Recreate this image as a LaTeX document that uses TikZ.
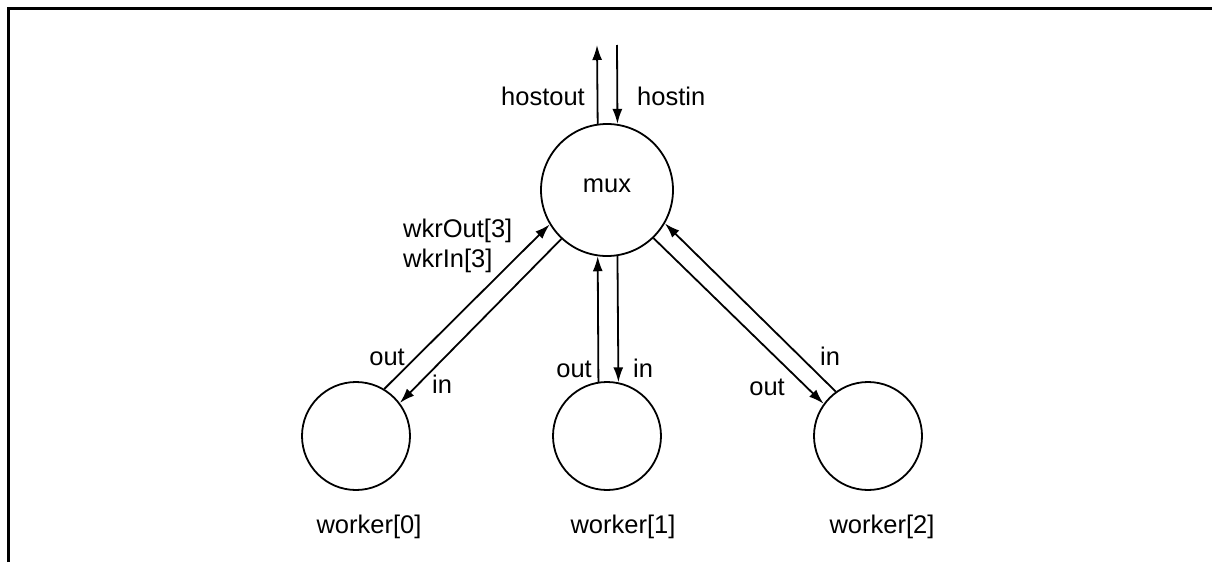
\documentclass[tikz,border=0pt]{standalone}
\usepackage{fontspec}
\setmainfont{Liberation Sans}
\usetikzlibrary{arrows.meta}
\begin{document}
\begin{tikzpicture}[x=1pt,y=-1pt,
  every node/.style={font=\fontsize{25.5}{30}\selectfont},
  proc/.style={draw,circle,line width=1.8pt,inner sep=0pt},
  conn/.style={line width=1.8pt,-{Latex[length=15pt,width=10pt]}},
  lbl/.style={inner sep=0pt,anchor=base west},
  lblr/.style={inner sep=0pt,anchor=base east},
  lblc/.style={inner sep=0pt,anchor=base}]
\useasboundingbox (0,0) rectangle (1212,562);
\draw[line width=3pt] (8,562) -- (8,8) -- (1212,8);
\node[proc,minimum size=132pt] (mux) at (607,190) {};
\node[lblc] (muxl) at (607,192) {mux};
\node[proc,minimum size=108pt] (w0) at (356,436) {};
\node[proc,minimum size=108pt] (w1) at (607,436) {};
\node[proc,minimum size=108pt] (w2) at (868,436) {};
\node[lblc] (w0l) at (369,533) {worker[0]};
\node[lblc] (w1l) at (623,533) {worker[1]};
\node[lblc] (w2l) at (882,533) {worker[2]};
\coordinate (hout) at (597,45);
\coordinate (hin) at (617,45);
\draw[conn] (mux.98.7) -- (hout);
\draw[conn] (hin) -- (mux.81.3);
\node[lblr] (houtl) at (585,105) {hostout};
\node[lbl] (hinl) at (637,105) {hostin};
% worker 0
\draw[conn] (w0.59.7) -- (mux.211.5);
\draw[conn] (mux.227.3) -- (w0.37.7);
\node[lbl] (wo3) at (403,237) {wkrOut[3]};
\node[lbl] (wi3) at (403,267) {wkrIn[3]};
\node[lblr] (w0o) at (405,365) {out};
\node[lbl] (w0i) at (432,393) {in};
% worker 1
\draw[conn] (w1.99.6) -- (mux.262.2);
\draw[conn] (mux.279.6) -- (w1.78.2);
\node[lblr] (w1o) at (592,377) {out};
\node[lbl] (w1i) at (633,377) {in};
% worker 2
\draw[conn] (w2.126.9) -- (mux.330.4);
\draw[conn] (mux.314.4) -- (w2.144.7);
\node[lbl] (w2i) at (820,365) {in};
\node[lblr] (w2o) at (785,395) {out};
\end{tikzpicture}
\end{document}
